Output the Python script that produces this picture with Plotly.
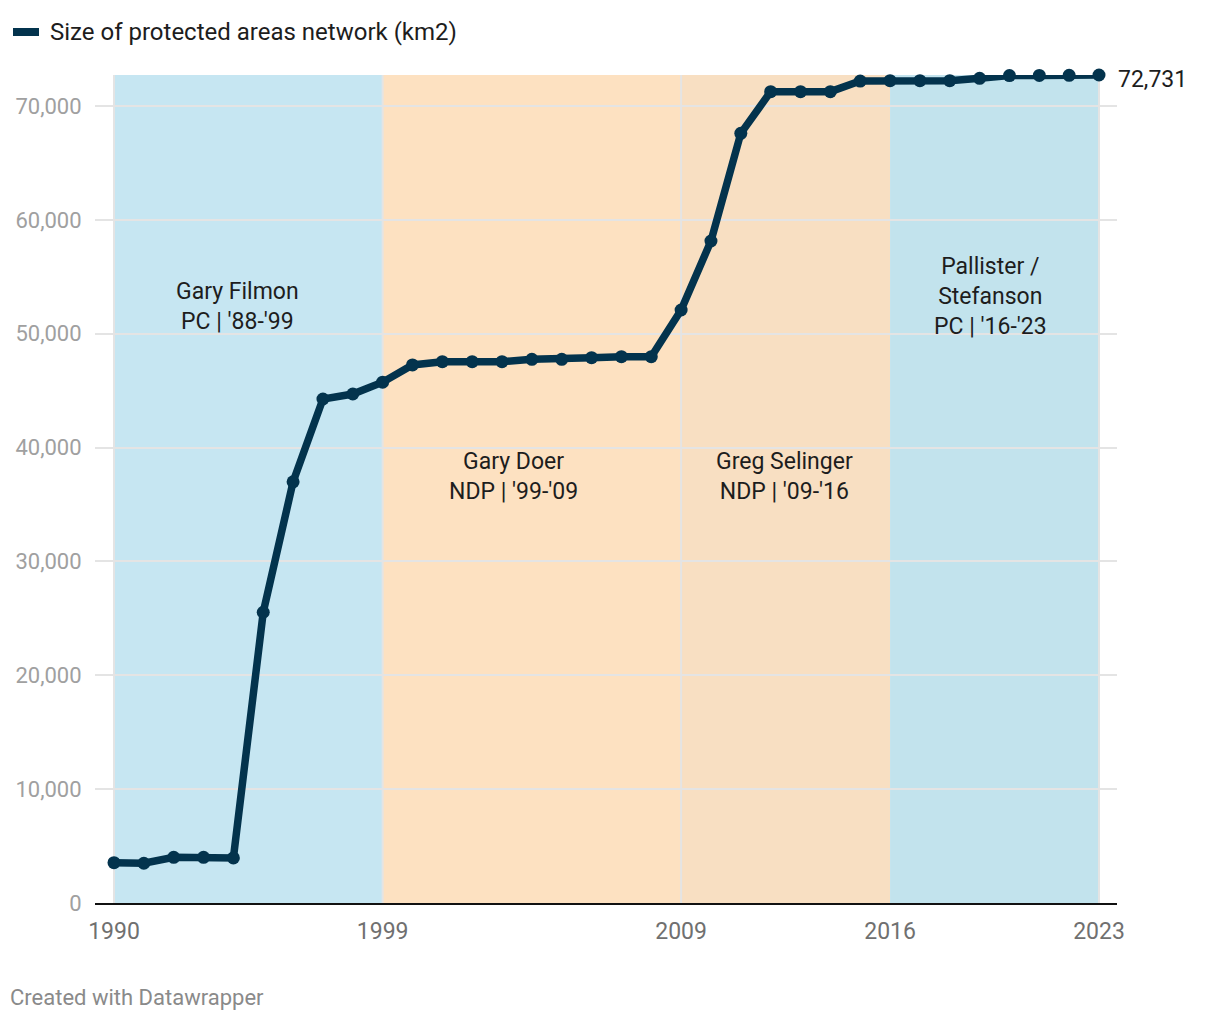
import plotly.graph_objects as go

years = list(range(1990, 2024))
area_km2 = [3540, 3490, 4010, 4010, 3960, 25540, 37000, 44270, 44710, 45750,
            47260, 47550, 47550, 47550, 47760, 47760, 47900, 47990, 47990, 52090,
            58150, 67610, 71270, 71270, 71270, 72200, 72230, 72230, 72230, 72440,
            72680, 72690, 72700, 72731]

periods_start = [1990, 1999, 2009, 2016]
periods_end = [1999, 2009, 2016, 2023]
period_colors = ["#c6e6f2", "#fde1c1", "#f8dfc2", "#c2e3ed"]
period_labels = ["Gary Filmon<br>PC | '88-'99", "Gary Doer<br>NDP | '99-'09",
                 "Greg Selinger<br>NDP | '09-'16", "Pallister /<br>Stefanson<br>PC | '16-'23"]
label_x = [1994.15, 2003.4, 2012.45, 2019.35]
label_y = [52400, 37450, 37450, 53300]
grid_x = [1990, 1999, 2009, 2023]
x_ticks = [1990, 1999, 2009, 2016, 2023]
y_ticks = [0, 10000, 20000, 30000, 40000, 50000, 60000, 70000]

LINE = "#03334d"
FONT = "Roboto, Arial, sans-serif"

# page offset of the figure div (default body margin)
OFF = 8
PL, PR, PT, PB = 95, 1117, 75, 903  # absolute plot-area edges
W, H = 1220 - 2 * OFF, 1020 - 2 * OFF
PW, PH = PR - PL, PB - PT


def px(xabs):
    return (xabs - PL) / PW


def py(yabs):
    return (PB - yabs) / PH


fig = go.Figure()
fig.add_trace(go.Scatter(
    x=years, y=area_km2, mode="lines+markers",
    line=dict(color=LINE, width=7.5),
    marker=dict(color=LINE, size=13),
    cliponaxis=False, showlegend=False, hoverinfo="x+y",
))

shapes = []
for s, e, c in zip(periods_start, periods_end, period_colors):
    shapes.append(dict(type="rect", xref="x", yref="y", x0=s, x1=e, y0=0, y1=max(area_km2),
                       fillcolor=c, line=dict(width=0), layer="below"))
for gx in grid_x:
    shapes.append(dict(type="line", xref="x", yref="y", x0=gx, x1=gx, y0=0, y1=max(area_km2),
                       line=dict(color="#e4e4e4", width=2), layer="below"))
# legend swatch
shapes.append(dict(type="line", xref="paper", yref="paper",
                   x0=px(13), x1=px(39), y0=py(32), y1=py(32),
                   line=dict(color=LINE, width=8)))

annotations = []
for lx, ly, t in zip(label_x, label_y, period_labels):
    annotations.append(dict(x=lx, y=ly, xref="x", yref="y", text=t, showarrow=False,
                            font=dict(family=FONT, size=23, color="#1d1d1d"),
                            align="center"))
annotations.append(dict(x=years[-1], y=area_km2[-1], xref="x", yref="y",
                        text=f"{area_km2[-1]:,}", showarrow=False, xanchor="left",
                        xshift=17, yshift=-4,
                        font=dict(family=FONT, size=23, color="#1d1d1d")))
annotations.append(dict(x=px(48), y=py(32), xref="paper", yref="paper",
                        text="Size of protected areas network (km2)", showarrow=False,
                        xanchor="left", yanchor="middle",
                        font=dict(family=FONT, size=24, color="#1d1d1d")))
annotations.append(dict(x=px(8), y=py(997), xref="paper", yref="paper",
                        text="Created with Datawrapper", showarrow=False,
                        xanchor="left", yanchor="middle",
                        font=dict(family=FONT, size=22, color="#8a8a8a")))

x_pad_l = 19 / 29.85
x_pad_r = 18 / 29.85
fig.update_layout(
    width=W, height=H,
    margin=dict(l=PL - OFF, r=W + OFF - PR, t=PT - OFF, b=H + OFF - PB, autoexpand=False),
    paper_bgcolor="white", plot_bgcolor="white",
    font=dict(family=FONT),
    shapes=shapes, annotations=annotations,
    xaxis=dict(range=[1990 - x_pad_l, 2023 + x_pad_r], tickvals=x_ticks,
               showgrid=False, zeroline=False, showline=True, linecolor="#111111", linewidth=2,
               tickfont=dict(family=FONT, size=23, color="#707070"), ticks="", ticklen=0,
               ticklabelstandoff=6),
    yaxis=dict(range=[0, max(area_km2)], tickvals=y_ticks, tickformat=",",
               showgrid=True, gridcolor="#e4e4e4", gridwidth=2, zeroline=False,
               showline=False,
               tickfont=dict(family=FONT, size=22, color="#a0a0a0"),
               ticks="outside", ticklen=0, ticklabelstandoff=8),
    showlegend=False,
)

fig.write_html("out.html")
